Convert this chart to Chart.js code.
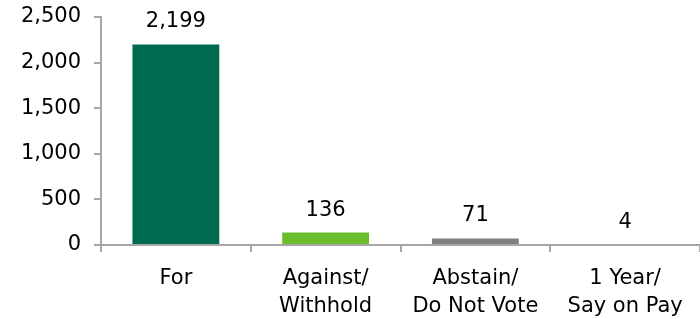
<!DOCTYPE html>
<html>
<head>
<meta charset="utf-8">
<script src="https://cdn.jsdelivr.net/npm/chart.js@4.4.0/dist/chart.umd.min.js"></script>
<style>
  html, body { margin: 0; padding: 0; background: #fff; }
  #wrap { width: 700px; height: 319px; }
</style>
</head>
<body>
<div id="wrap"><canvas id="votes"></canvas></div>
<script>
const categories = [["For"], ["Against/", "Withhold"], ["Abstain/", "Do Not Vote"], ["1 Year/", "Say on Pay"]];
const votes = [2199, 136, 71, 4];
const barColors = ["#006a4e", "#6abd2b", "#808080", "#a6a6a6"];
const yTicks = [0, 500, 1000, 1500, 2000, 2500];

const fontFamily = "'DejaVu Sans', sans-serif";
const axisGray = "#a6a6a6";

// labels above each bar
const valueLabels = {
    id: "valueLabels",
    afterDatasetsDraw(chart) {
        let ctx = chart.ctx;
        let meta = chart.getDatasetMeta(0);
        ctx.save();
        ctx.font = "21px " + fontFamily;
        ctx.fillStyle = "#000";
        ctx.textAlign = "center";
        ctx.textBaseline = "bottom";
        meta.data.forEach((bar, i) => {
            ctx.fillText(votes[i].toLocaleString("en-US"), bar.x, bar.y - 12);
        });
        ctx.restore();
    }
};

let ctx = document.getElementById("votes").getContext("2d");
new Chart(ctx, {
    type: "bar",
    data: {
        labels: categories,
        datasets: [{
            data: votes,
            backgroundColor: barColors,
            borderWidth: 0,
            barPercentage: 0.58,
            categoryPercentage: 1
        }]
    },
    options: {
        responsive: true,
        maintainAspectRatio: false,
        animation: false,
        layout: { padding: { top: 17, right: 0, left: 0, bottom: 0 } },
        plugins: {
            legend: { display: false },
            tooltip: { enabled: false }
        },
        scales: {
            x: {
                offset: true,
                grid: { offset: true, drawOnChartArea: false, drawTicks: true, tickLength: 7, color: axisGray, lineWidth: 2 },
                border: { color: axisGray, width: 2 },
                ticks: {
                    color: "#000",
                    font: { family: fontFamily, size: 21, lineHeight: 1.35 },
                    padding: 12,
                    maxRotation: 0,
                    autoSkip: false
                },
                afterFit(scale) {
                    scale.height = 74;
                    scale.paddingLeft = 0;
                    scale.paddingRight = 0;
                }
            },
            y: {
                min: 0,
                max: 2500,
                afterBuildTicks(scale) { scale.ticks = yTicks.map(v => ({ value: v })); },
                grid: { drawOnChartArea: false, drawTicks: true, tickLength: 7, color: axisGray, lineWidth: 2 },
                border: { color: axisGray, width: 2 },
                ticks: {
                    color: "#000",
                    font: { family: fontFamily, size: 21 },
                    padding: 13,
                    callback: v => v.toLocaleString("en-US")
                },
                afterFit(scale) {
                    scale.width = 101;
                    scale.paddingTop = 0;
                    scale.paddingBottom = 0;
                }
            }
        }
    },
    plugins: [valueLabels]
});
</script>
</body>
</html>
